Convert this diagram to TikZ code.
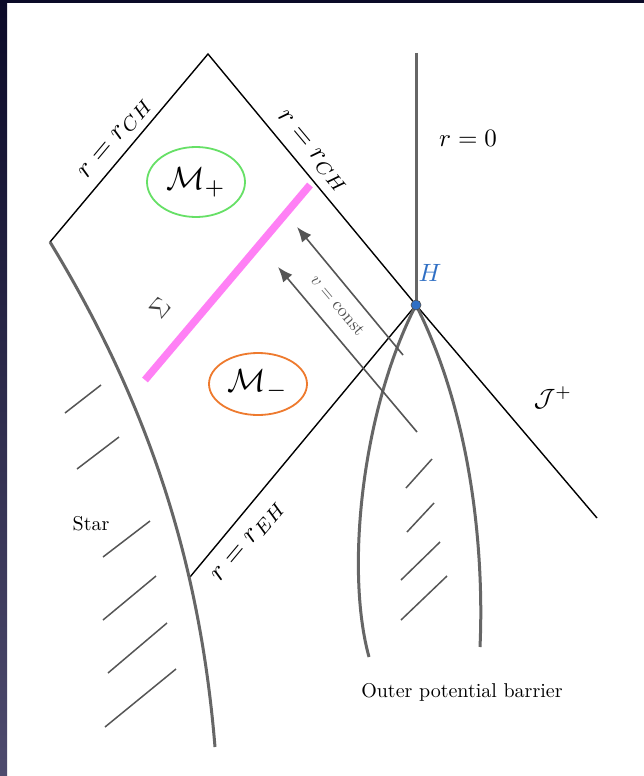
\documentclass[tikz,border=0pt]{standalone}
\usepackage{graphicx}
\usetikzlibrary{arrows.meta,shapes.geometric}
\definecolor{edgegray}{HTML}{666666}
\definecolor{hatchgray}{HTML}{555555}
\definecolor{pinkline}{HTML}{FF80F5}
\definecolor{hblue}{HTML}{2F6FC4}
\definecolor{mgreen}{HTML}{66E066}
\definecolor{morange}{HTML}{EE7A2E}
\definecolor{navytop}{HTML}{0B0A28}
\definecolor{navybot}{HTML}{4E4B6E}
\begin{document}
\begin{tikzpicture}[x=1pt,y=-1pt,
  edge/.style={black,line width=1.4pt},
  thickgray/.style={edgegray,line width=3pt},
  hatch/.style={hatchgray,line width=1.5pt},
  flow/.style={hatchgray,line width=1.6pt,-{Latex[length=15pt,width=12pt]}},
  region/.style={ellipse,line width=1.8pt,inner sep=0pt},
  mathlbl/.style={inner sep=0pt,scale=2.75},
  midlbl/.style={inner sep=0pt,scale=2.5},
  txtlbl/.style={inner sep=0pt,scale=2}]
% background and slide border
\fill[white] (0,0) rectangle (644,776);
\useasboundingbox (0,0) rectangle (644,776);
\shade[top color=navytop,bottom color=navybot] (0,0) rectangle (7,776);
\fill[navytop] (0,0) rectangle (644,3);
% key points
\coordinate (top) at (208,54);
\coordinate (left) at (50,242);
\coordinate (H) at (416,305);
\coordinate (scri) at (597,518);
\coordinate (eh) at (190,577);
\coordinate (rzero) at (416,53);
\coordinate (starend) at (215,747);
\coordinate (lbarend) at (369,657);
\coordinate (rbarend) at (480,647);
\coordinate (sigA) at (145,380);
\coordinate (sigB) at (310,185);
% diamond edges
\draw[edge] (left) -- (top) -- (H) -- (scri);
\draw[edge] (H) -- (eh);
% r = 0 line
\draw[thickgray] (rzero) -- (H);
% star surface
\draw[thickgray] (left) .. controls (156,416) and (201,577) .. (starend);
% outer potential barrier curves
\draw[thickgray] (H) .. controls (362,410) and (345,570) .. (lbarend);
\draw[thickgray] (H) .. controls (474,420) and (484,560) .. (rbarend);
% star hatching
\draw[hatch] (65,413) -- (101,385);
\draw[hatch] (77,469) -- (119,437);
\draw[hatch] (103,557) -- (150,521);
\draw[hatch] (103,620) -- (156,576);
\draw[hatch] (108,673) -- (167,623);
\draw[hatch] (105,727) -- (176,669);
% barrier hatching
\draw[hatch] (406,488) -- (432,459);
\draw[hatch] (407,532) -- (434,503);
\draw[hatch] (401,580) -- (440,542);
\draw[hatch] (401,620) -- (447,576);
% Sigma hypersurface
\draw[pinkline,line width=7.5pt] (sigA) -- (sigB);
% v = const arrows
\coordinate (a1tail) at (403,355);
\coordinate (a1tip) at (297,227);
\coordinate (a2tail) at (417,432);
\coordinate (a2tip) at (278,267);
\draw[flow] (a1tail) -- (a1tip);
\draw[flow] (a2tail) -- (a2tip);
% H point
\fill[hblue,draw=black!70,line width=0.6pt] (H) circle (5pt);
% regions
\node[region,draw=mgreen,minimum width=98pt,minimum height=70pt] (mplus) at (196,182) {\scalebox{3.2}{$\mathcal{M}_+$}};
\node[region,draw=morange,minimum width=98pt,minimum height=62pt] (mminus) at (258,384) {\scalebox{3.2}{$\mathcal{M}_-$}};
% labels
\node[mathlbl,rotate=50] (lchl) at (116,139) {$r=r_{CH}$};
\node[mathlbl,rotate=-50] (lchr) at (312,152) {$r=r_{CH}$};
\node[mathlbl,rotate=50] (lehl) at (249,542) {$r=r_{EH}$};
\node[inner sep=0pt,scale=1.8,rotate=-50,text=hatchgray] (lv) at (338,305) {$v=\mathrm{const}$};
\node[midlbl,rotate=50,text=black!75] (lsig) at (160,308) {$\Sigma$};
\node[midlbl,text=hblue] (lH) at (430,273) {$H$};
\node[midlbl] (lr0) at (468,138) {$r=0$};
\node[midlbl] (lscri) at (553,398) {$\mathcal{J}^+$};
\node[txtlbl] (lstar) at (91,524) {Star};
\node[txtlbl] (lbar) at (462,692) {Outer potential barrier};
\end{tikzpicture}
\end{document}
